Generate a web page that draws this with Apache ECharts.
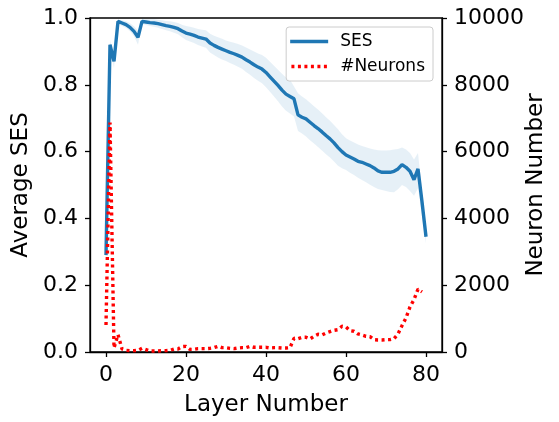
<!DOCTYPE html>
<html>
<head>
<meta charset="utf-8">
<script src="https://cdn.jsdelivr.net/npm/echarts@6/dist/echarts.min.js"></script>
<style>
    html, body { margin: 0; padding: 0; background: #fff; }
    #chart { width: 559px; height: 422px; }
</style>
</head>
<body>
<div id="chart"></div>
<script>
// SES per layer (0..80), mean with upper / lower band
var sesMean = [0.29, 0.92, 0.87, 0.99, 0.985, 0.98, 0.972, 0.96, 0.942, 0.99,
    0.988, 0.986, 0.985, 0.983, 0.98, 0.977, 0.975, 0.972, 0.968, 0.961,
    0.955, 0.952, 0.948, 0.943, 0.94, 0.937, 0.925, 0.918, 0.912, 0.907,
    0.902, 0.897, 0.893, 0.888, 0.883, 0.875, 0.868, 0.86, 0.853, 0.847,
    0.837, 0.824, 0.811, 0.798, 0.784, 0.772, 0.765, 0.758, 0.71, 0.703,
    0.698, 0.688, 0.678, 0.669, 0.659, 0.648, 0.638, 0.626, 0.612, 0.6,
    0.59, 0.584, 0.578, 0.571, 0.568, 0.563, 0.558, 0.551, 0.542, 0.538,
    0.538, 0.538, 0.541, 0.548, 0.561, 0.553, 0.541, 0.516, 0.548, 0.45,
    0.345];
var sesUpper = [0.30, 0.935, 0.885, 0.995, 0.993, 0.99, 0.984, 0.975, 0.962, 0.998,
    0.997, 0.996, 0.996, 0.995, 0.993, 0.991, 0.99, 0.988, 0.985, 0.98,
    0.976, 0.974, 0.971, 0.967, 0.965, 0.963, 0.953, 0.947, 0.942, 0.938,
    0.933, 0.929, 0.926, 0.922, 0.918, 0.912, 0.906, 0.9, 0.894, 0.889,
    0.881, 0.869, 0.857, 0.845, 0.833, 0.822, 0.815, 0.795, 0.775, 0.765,
    0.757, 0.746, 0.736, 0.726, 0.715, 0.703, 0.692, 0.68, 0.667, 0.652,
    0.64, 0.633, 0.627, 0.621, 0.617, 0.613, 0.609, 0.606, 0.604, 0.603,
    0.603, 0.604, 0.606, 0.608, 0.612, 0.606, 0.596, 0.576, 0.596, 0.48,
    0.365];
var sesLower = [0.275, 0.905, 0.85, 0.982, 0.976, 0.97, 0.96, 0.945, 0.92, 0.982,
    0.979, 0.976, 0.974, 0.971, 0.967, 0.963, 0.96, 0.956, 0.951, 0.942,
    0.934, 0.93, 0.925, 0.919, 0.915, 0.911, 0.897, 0.889, 0.882, 0.876,
    0.871, 0.865, 0.86, 0.854, 0.848, 0.838, 0.83, 0.82, 0.812, 0.805,
    0.793, 0.779, 0.765, 0.751, 0.735, 0.722, 0.714, 0.705, 0.662, 0.654,
    0.645, 0.634, 0.624, 0.614, 0.603, 0.592, 0.582, 0.57, 0.558, 0.55,
    0.545, 0.537, 0.53, 0.522, 0.515, 0.508, 0.501, 0.494, 0.488, 0.485,
    0.482, 0.479, 0.478, 0.487, 0.5, 0.494, 0.482, 0.468, 0.49, 0.41,
    0.325];
// neuron count per layer (0..79)
var neurons = [810, 6870, 120, 520, 90, 50, 40, 40, 50, 110,
    70, 30, 30, 30, 40, 40, 50, 90, 90, 160,
    170, 80, 80, 100, 100, 100, 110, 130, 170, 130,
    130, 110, 100, 120, 130, 130, 170, 140, 140, 140,
    140, 120, 130, 130, 120, 120, 130, 410, 400, 440,
    440, 390, 470, 530, 510, 570, 610, 650, 670, 770,
    750, 640, 620, 540, 510, 470, 460, 370, 360, 360,
    370, 370, 400, 540, 790, 1020, 1350, 1570, 1880, 1800];
var xTicks = [0, 20, 40, 60, 80];

var fontFamily = 'DejaVu Sans';
var tickSize = 22;
var nameSize = 23;

function pairs(arr) {
    var out = [];
    for (var i = 0; i < arr.length; i++) {
        out.push([i, arr[i]]);
    }
    return out;
}

var myChart = echarts.init(document.getElementById('chart'));

var axisLine = { show: true, onZero: false, lineStyle: { color: '#000', width: 1.3 } };
var axisTick = { show: true, inside: false, length: 5, lineStyle: { color: '#000', width: 1.3 } };

// legend icons: solid bar and dotted bar
var solidIcon = 'path://M0,0 H38 V3.5 H0 Z';
var dottedIcon = 'path://M0,0 H3 V3.5 H0 Z M6.5,0 H9.5 V3.5 H6.5 Z M13,0 H16 V3.5 H13 Z M19.5,0 H22.5 V3.5 H19.5 Z M26,0 H29 V3.5 H26 Z M32.5,0 H35.5 V3.5 H32.5 Z';

var option = {
    animation: false,
    backgroundColor: '#fff',
    grid: {
        left: 90,
        right: 117,
        top: 18,
        bottom: 70,
        show: true,
        borderColor: '#000',
        borderWidth: 1.3,
        containLabel: false,
        outerBoundsMode: 'none'
    },
    // right axis title, placed by hand so it is not pushed off the canvas
    graphic: [{
        type: 'text',
        x: 536,
        y: 185,
        rotation: Math.PI / 2,
        style: {
            text: 'Neuron Number',
            fontFamily: fontFamily,
            fontSize: nameSize,
            fill: '#000',
            align: 'center',
            verticalAlign: 'middle'
        }
    }],
    legend: {
        data: [
            { name: 'SES', icon: solidIcon },
            { name: '#Neurons', icon: dottedIcon }
        ],
        orient: 'vertical',
        right: 126,
        top: 27,
        padding: [6, 8, 6, 4],
        itemWidth: 38,
        itemHeight: 3.5,
        itemGap: 8,
        borderColor: '#ccc',
        borderWidth: 1,
        borderRadius: 3,
        backgroundColor: 'rgba(255,255,255,0.8)',
        textStyle: { fontFamily: fontFamily, fontSize: 17, color: '#000', padding: [0, 0, 0, 7] }
    },
    xAxis: {
        type: 'value',
        min: -4,
        max: 84,
        name: 'Layer Number',
        nameLocation: 'middle',
        nameGap: 42,
        nameTextStyle: { fontFamily: fontFamily, fontSize: nameSize, color: '#000' },
        splitLine: { show: false },
        axisLine: axisLine,
        axisTick: { show: true, length: 5, lineStyle: { color: '#000', width: 1.3 }, customValues: xTicks },
        axisLabel: { fontFamily: fontFamily, fontSize: tickSize, color: '#000', margin: 12, customValues: xTicks }
    },
    yAxis: [
        {
            type: 'value',
            min: 0,
            max: 1,
            interval: 0.2,
            name: 'Average SES',
            nameLocation: 'middle',
            nameGap: 57,
            nameTextStyle: { fontFamily: fontFamily, fontSize: nameSize, color: '#000' },
            splitLine: { show: false },
            axisLine: axisLine,
            axisTick: axisTick,
            axisLabel: {
                fontFamily: fontFamily, fontSize: tickSize, color: '#000', margin: 12,
                formatter: function (v) { return v.toFixed(1); }
            }
        },
        {
            type: 'value',
            min: 0,
            max: 10000,
            interval: 2000,
            splitLine: { show: false },
            axisLine: axisLine,
            axisTick: axisTick,
            axisLabel: {
                fontFamily: fontFamily, fontSize: tickSize, color: '#000', margin: 12,
                formatter: function (v) { return String(v); }
            }
        }
    ],
    series: [
        {
            // shaded band between sesLower and sesUpper
            name: 'band',
            type: 'custom',
            silent: true,
            z: 1,
            data: [0],
            renderItem: function (params, api) {
                var pts = [];
                for (var i = 0; i < sesUpper.length; i++) {
                    pts.push(api.coord([i, sesUpper[i]]));
                }
                for (var j = sesLower.length - 1; j >= 0; j--) {
                    pts.push(api.coord([j, sesLower[j]]));
                }
                return {
                    type: 'polygon',
                    shape: { points: pts },
                    style: { fill: 'rgba(31,119,180,0.11)', stroke: null }
                };
            }
        },
        {
            name: 'SES',
            type: 'line',
            data: pairs(sesMean),
            symbol: 'none',
            color: '#1f77b4',
            lineStyle: { color: '#1f77b4', width: 3.4 },
            z: 3
        },
        {
            name: '#Neurons',
            type: 'line',
            yAxisIndex: 1,
            data: pairs(neurons),
            symbol: 'none',
            color: '#ff0000',
            lineStyle: { color: '#ff0000', width: 3.4, type: [3, 3.5], cap: 'butt' },
            z: 4
        }
    ]
};

myChart.setOption(option, true);
</script>
</body>
</html>
